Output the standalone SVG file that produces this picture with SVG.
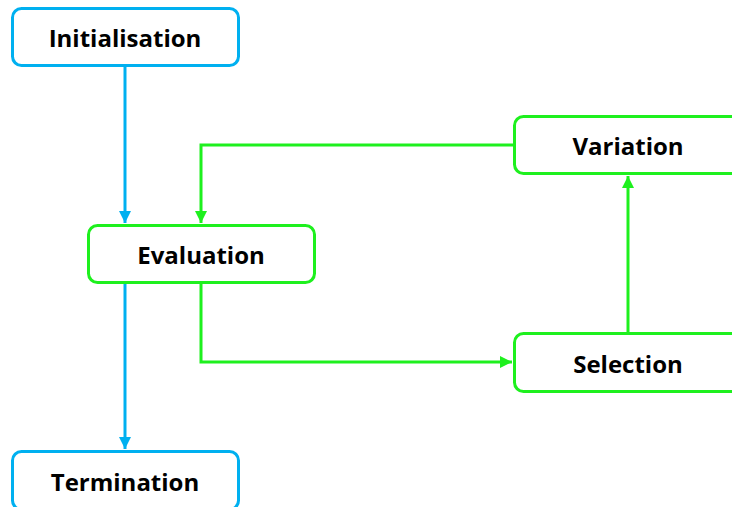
<svg xmlns="http://www.w3.org/2000/svg" width="732" height="507" viewBox="0 0 732 507">
  <style>
    .box { fill: #ffffff; stroke-width: 3; }
    .blue { stroke: #00b0f0; }
    .green { stroke: #1ef01e; }
    .label { font-family: "Open Sans", "Liberation Sans", sans-serif; font-weight: 700; font-size: 24px; fill: #000000; text-anchor: middle; dominant-baseline: central; }
    .wire { fill: none; stroke-width: 3; }
  </style>
  <defs>
    <marker id="arrowBlue" viewBox="0 0 10 10" refX="10" refY="5" markerWidth="4" markerHeight="4" orient="auto" markerUnits="strokeWidth">
      <path d="M0,0 L10,5 L0,10 Z" fill="#00b0f0"/>
    </marker>
    <marker id="arrowGreen" viewBox="0 0 10 10" refX="10" refY="5" markerWidth="4" markerHeight="4" orient="auto" markerUnits="strokeWidth">
      <path d="M0,0 L10,5 L0,10 Z" fill="#1ef01e"/>
    </marker>
  </defs>

  <g id="connectors">
    <path class="wire blue" d="M125,66 V223" marker-end="url(#arrowBlue)"/>
    <path class="wire blue" d="M125,284 V449" marker-end="url(#arrowBlue)"/>
    <path class="wire green" d="M514,145 H201 V223" marker-end="url(#arrowGreen)"/>
    <path class="wire green" d="M201,284 V362 H512" marker-end="url(#arrowGreen)"/>
    <path class="wire green" d="M628,333 V176" marker-end="url(#arrowGreen)"/>
  </g>

  <g id="initialisation">
    <rect class="box blue" x="12.5" y="8.5" width="226" height="57" rx="9"/>
    <text class="label" x="125" y="37">Initialisation</text>
  </g>
  <g id="evaluation">
    <rect class="box green" x="88.5" y="225.5" width="226" height="57" rx="9"/>
    <text class="label" x="201" y="254">Evaluation</text>
  </g>
  <g id="variation">
    <rect class="box green" x="514.5" y="116.5" width="226" height="57" rx="9"/>
    <text class="label" x="628" y="145">Variation</text>
  </g>
  <g id="selection">
    <rect class="box green" x="514.5" y="333.5" width="226" height="58" rx="9"/>
    <text class="label" x="628" y="363">Selection</text>
  </g>
  <g id="termination">
    <rect class="box blue" x="12.5" y="451.5" width="226" height="58" rx="9"/>
    <text class="label" x="125" y="481">Termination</text>
  </g>
</svg>
